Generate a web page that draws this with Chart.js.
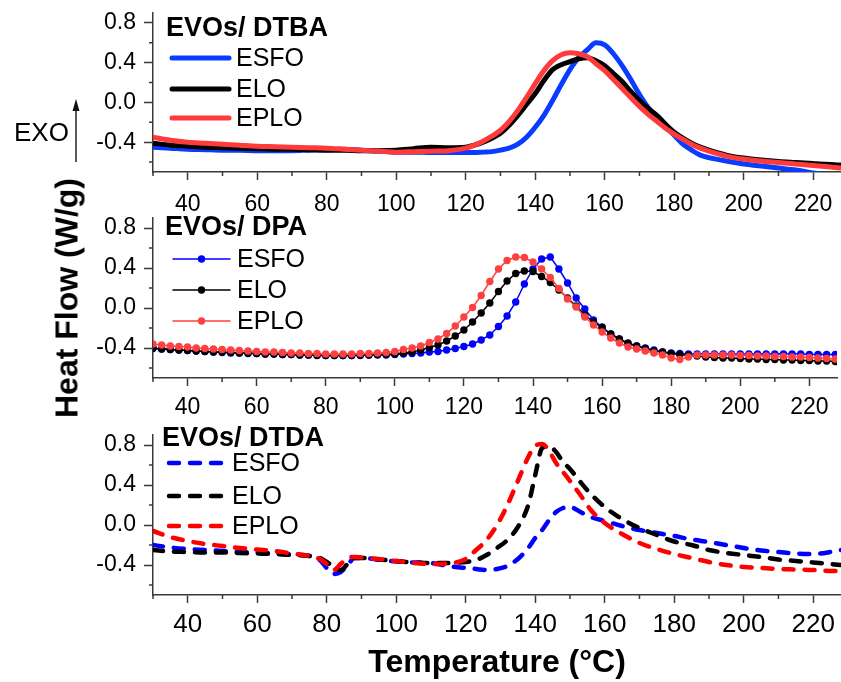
<!DOCTYPE html>
<html>
<head>
<meta charset="utf-8">
<script src="https://cdn.jsdelivr.net/npm/chart.js@4.4.1/dist/chart.umd.min.js"></script>
<style>
  html, body { margin: 0; padding: 0; background: #fff; }
  #wrap { position: relative; width: 841px; height: 682px; overflow: hidden; font-family: "Liberation Sans", Arial, sans-serif; }
  .panel { position: absolute; left: 0; }
  #ylab { position: absolute; left: 67px; top: 298px; transform: translate(-50%, -50%) rotate(-90deg);
          font-weight: bold; font-size: 32px; white-space: nowrap; color: #000; }
</style>
</head>
<body>
<div id="wrap">
  <canvas id="c1" class="panel" width="841" height="215" style="top:0"></canvas>
  <canvas id="c2" class="panel" width="841" height="215" style="top:205px"></canvas>
  <canvas id="c3" class="panel" width="841" height="262" style="top:420px"></canvas>
  <div id="ylab">Heat Flow (W/g)</div>
</div>
<script>
const FONT = '"Liberation Sans", Arial, sans-serif';
const AXIS = '#3a3a3a';

// shared axes
const X_MIN = 30, X_MAX = 228;
const X_MAJOR = [40, 60, 80, 100, 120, 140, 160, 180, 200, 220];
const X_MINOR = [30, 50, 70, 90, 110, 130, 150, 170, 190, 210];
const Y_MIN = -0.7, Y_MAX = 0.9;
const Y_MAJOR = [-0.4, 0.0, 0.4, 0.8];
const Y_MINOR = [-0.6, -0.2, 0.2, 0.6];
const SERIES = ['ESFO', 'ELO', 'EPLO'];

// panel 1: EVOs/ DTBA (solid)
const T_DTBA = [30, 35, 40, 45, 50, 55, 60, 65, 70, 75, 80, 85, 90, 95, 100, 105, 110, 115, 120,
  122.5, 125, 127.5, 130, 132.5, 135, 137.5, 140, 142.5, 145, 147.5, 150, 152.5, 155, 157.5, 160,
  162.5, 165, 167.5, 170, 172.5, 175, 177.5, 180, 182.5, 185, 187.5, 190,
  195, 200, 205, 210, 215, 220, 225, 228];
const DTBA_ESFO = [-0.45, -0.46, -0.47, -0.475, -0.48, -0.48, -0.485, -0.485, -0.485, -0.48, -0.475, -0.47, -0.48, -0.49, -0.50, -0.50, -0.505, -0.505, -0.505,
  -0.505, -0.50, -0.495, -0.48, -0.46, -0.42, -0.35, -0.25, -0.13, 0.02, 0.18, 0.33, 0.45, 0.53, 0.60, 0.58,
  0.49, 0.37, 0.23, 0.08, -0.05, -0.15, -0.24, -0.33, -0.42, -0.48, -0.53, -0.555,
  -0.59, -0.62, -0.64, -0.66, -0.68, -0.71, -0.73, -0.74];
const DTBA_ELO = [-0.41, -0.43, -0.44, -0.45, -0.455, -0.46, -0.465, -0.47, -0.47, -0.475, -0.48, -0.48, -0.485, -0.485, -0.48, -0.465, -0.45, -0.455, -0.45,
  -0.43, -0.40, -0.36, -0.31, -0.23, -0.13, -0.02, 0.09, 0.22, 0.33, 0.38, 0.41, 0.44, 0.45, 0.42, 0.37,
  0.29, 0.21, 0.11, 0.02, -0.06, -0.13, -0.22, -0.30, -0.36, -0.41, -0.45, -0.48,
  -0.53, -0.56, -0.58, -0.595, -0.605, -0.615, -0.625, -0.63];
const DTBA_EPLO = [-0.35, -0.38, -0.40, -0.41, -0.42, -0.43, -0.44, -0.445, -0.45, -0.455, -0.46, -0.47, -0.48, -0.49, -0.50, -0.495, -0.49, -0.485, -0.46,
  -0.43, -0.39, -0.34, -0.28, -0.19, -0.08, 0.05, 0.19, 0.32, 0.42, 0.48, 0.50, 0.49, 0.46, 0.39, 0.32,
  0.23, 0.14, 0.05, -0.04, -0.12, -0.19, -0.26, -0.32, -0.37, -0.42, -0.46, -0.49,
  -0.54, -0.57, -0.59, -0.605, -0.62, -0.635, -0.65, -0.66];

// panel 2: EVOs/ DPA (line + symbols)
const T_DPA = [30, 32.5, 35, 37.5, 40, 42.5, 45, 47.5, 50, 52.5, 55, 57.5, 60, 62.5, 65, 67.5, 70, 72.5, 75, 77.5,
  80, 82.5, 85, 87.5, 90, 92.5, 95, 97.5, 100, 102.5, 105, 107.5, 110, 112.5, 115, 117.5, 120, 122.5, 125, 127.5,
  130, 132.5, 135, 137.5, 140, 142.5, 145, 147.5, 150, 152.5, 155, 157.5, 160, 162.5, 165, 167.5, 170, 172.5, 175, 177.5,
  180, 182.5, 185, 187.5, 190, 192.5, 195, 197.5, 200, 202.5, 205, 207.5, 210, 212.5, 215, 217.5, 220, 222.5, 225, 227.5];
const DPA_ESFO = [-0.405, -0.41, -0.415, -0.42, -0.425, -0.43, -0.435, -0.44, -0.445, -0.45, -0.45, -0.455, -0.455, -0.46, -0.46, -0.465, -0.465, -0.47, -0.47, -0.47,
  -0.475, -0.475, -0.475, -0.475, -0.475, -0.47, -0.47, -0.47, -0.465, -0.46, -0.455, -0.45, -0.44, -0.435, -0.42, -0.405, -0.385, -0.36, -0.32, -0.27,
  -0.185, -0.08, 0.06, 0.24, 0.39, 0.49, 0.51, 0.39, 0.25, 0.10, -0.01, -0.12, -0.19, -0.26, -0.31, -0.36, -0.38, -0.40, -0.42, -0.44,
  -0.45, -0.455, -0.46, -0.46, -0.46, -0.46, -0.46, -0.46, -0.46, -0.46, -0.46, -0.46, -0.46, -0.46, -0.46, -0.46, -0.465, -0.465, -0.465, -0.465];
const DPA_ELO = [-0.40, -0.41, -0.415, -0.42, -0.425, -0.43, -0.435, -0.44, -0.44, -0.445, -0.45, -0.45, -0.455, -0.46, -0.46, -0.465, -0.465, -0.47, -0.47, -0.475,
  -0.475, -0.475, -0.475, -0.475, -0.47, -0.47, -0.465, -0.465, -0.46, -0.45, -0.44, -0.42, -0.395, -0.37, -0.33, -0.28, -0.22, -0.14, -0.05, 0.05,
  0.165, 0.27, 0.345, 0.37, 0.365, 0.315, 0.255, 0.18, 0.10, 0.02, -0.07, -0.14, -0.195, -0.26, -0.31, -0.35, -0.38, -0.405, -0.43, -0.44,
  -0.455, -0.465, -0.475, -0.48, -0.49, -0.495, -0.50, -0.50, -0.505, -0.51, -0.51, -0.515, -0.515, -0.52, -0.52, -0.525, -0.525, -0.53, -0.53, -0.535];
const DPA_EPLO = [-0.36, -0.37, -0.38, -0.385, -0.39, -0.40, -0.405, -0.41, -0.415, -0.42, -0.425, -0.43, -0.435, -0.44, -0.44, -0.445, -0.45, -0.45, -0.455, -0.455,
  -0.46, -0.46, -0.46, -0.46, -0.455, -0.455, -0.45, -0.445, -0.435, -0.415, -0.40, -0.38, -0.345, -0.31, -0.255, -0.18, -0.09, 0.005, 0.125, 0.265,
  0.39, 0.475, 0.51, 0.505, 0.46, 0.39, 0.305, 0.195, 0.09, 0.01, -0.09, -0.17, -0.24, -0.30, -0.35, -0.39, -0.41, -0.43, -0.45, -0.47,
  -0.50, -0.515, -0.49, -0.47, -0.47, -0.47, -0.47, -0.47, -0.475, -0.475, -0.48, -0.48, -0.485, -0.485, -0.49, -0.49, -0.495, -0.50, -0.505, -0.51];

// panel 3: EVOs/ DTDA (dashed)
const T_DTDA = [30, 35, 40, 45, 50, 55, 60, 65, 70, 75, 78, 80, 82, 84, 86, 88, 90, 95, 100, 105, 110, 115, 120,
  123, 126, 129, 132, 135, 138, 140, 142, 144, 146, 148, 150, 153, 156, 160, 165, 170, 175, 180, 185, 190,
  195, 200, 205, 210, 215, 220, 225, 228];
const DTDA_ESFO = [-0.20, -0.225, -0.24, -0.25, -0.26, -0.27, -0.275, -0.285, -0.295, -0.31, -0.35, -0.43, -0.49, -0.47, -0.40, -0.33, -0.33, -0.345, -0.365, -0.375, -0.38, -0.41, -0.43,
  -0.44, -0.45, -0.44, -0.41, -0.34, -0.23, -0.13, -0.05, 0.05, 0.13, 0.17, 0.18, 0.13, 0.08, 0.04, -0.01, -0.05, -0.08, -0.11, -0.145, -0.17,
  -0.20, -0.23, -0.255, -0.27, -0.285, -0.29, -0.27, -0.25];
const DTDA_ELO = [-0.25, -0.265, -0.27, -0.275, -0.275, -0.28, -0.285, -0.29, -0.30, -0.31, -0.33, -0.37, -0.42, -0.45, -0.39, -0.33, -0.33, -0.345, -0.36, -0.375, -0.38, -0.38, -0.37,
  -0.35, -0.30, -0.23, -0.15, -0.02, 0.20, 0.50, 0.77, 0.79, 0.73, 0.63, 0.56, 0.43, 0.31, 0.18, 0.06, -0.03, -0.10, -0.165, -0.20, -0.25,
  -0.28, -0.30, -0.32, -0.345, -0.36, -0.375, -0.39, -0.40];
const DTDA_EPLO = [-0.06, -0.12, -0.16, -0.19, -0.21, -0.23, -0.245, -0.26, -0.285, -0.31, -0.34, -0.39, -0.45, -0.39, -0.33, -0.32, -0.325, -0.34, -0.36, -0.38, -0.39, -0.385, -0.34,
  -0.25, -0.15, 0.00, 0.20, 0.44, 0.68, 0.79, 0.81, 0.74, 0.62, 0.53, 0.44, 0.30, 0.15, 0.02, -0.09, -0.18, -0.24, -0.29, -0.33, -0.37,
  -0.40, -0.42, -0.43, -0.44, -0.445, -0.45, -0.46, -0.46];

function pts(xs, ys) { return xs.map((x, i) => ({ x: x, y: ys[i] })); }

function zeroPad(s) { s.paddingLeft = 0; s.paddingRight = 0; s.paddingTop = 0; s.paddingBottom = 0; }

function makeScales(xTickSize, xTickPad, xHeight, xTitle) {
  return {
    x: {
      type: 'linear', min: X_MIN, max: X_MAX,
      afterBuildTicks: s => { s.ticks = X_MAJOR.map(v => ({ value: v })); },
      afterFit: s => { s.height = xHeight; zeroPad(s); },
      grid: { display: true, drawOnChartArea: false, drawTicks: true, tickLength: 8, tickWidth: 1.5, tickColor: AXIS },
      border: { display: true, color: AXIS, width: 1.5 },
      ticks: { color: '#000', font: { family: FONT, size: xTickSize }, padding: xTickPad,
               maxRotation: 0, autoSkip: false, callback: v => String(v) },
      title: xTitle
        ? { display: true, text: xTitle, color: '#000', font: { family: FONT, size: 32, weight: 'bold' }, padding: { top: 0, bottom: 0 } }
        : { display: false }
    },
    y: {
      type: 'linear', min: Y_MIN, max: Y_MAX,
      afterBuildTicks: s => { s.ticks = Y_MAJOR.map(v => ({ value: v })); },
      afterFit: s => { s.width = 153; zeroPad(s); },
      grid: { display: true, drawOnChartArea: false, drawTicks: true, tickLength: 9, tickWidth: 1.5, tickColor: AXIS },
      border: { display: true, color: AXIS, width: 1.5 },
      ticks: { color: '#000', font: { family: FONT, size: 23 }, padding: 8, autoSkip: false,
               callback: v => v.toFixed(1) }
    }
  };
}

// short minor ticks, placed through the chart's own scales
const minorTicks = {
  id: 'minorTicks',
  afterDraw(chart) {
    const { ctx, scales: { x, y } } = chart;
    ctx.save();
    ctx.strokeStyle = AXIS;
    ctx.lineWidth = 1.5;
    ctx.beginPath();
    X_MINOR.forEach(v => {
      const px = x.getPixelForValue(v);
      ctx.moveTo(px, x.top); ctx.lineTo(px, x.top + 4);
    });
    Y_MINOR.forEach(v => {
      const py = y.getPixelForValue(v);
      ctx.moveTo(y.right, py); ctx.lineTo(y.right - 4, py);
    });
    ctx.stroke();
    ctx.restore();
  }
};

// legend drawn inside the plot, with bold panel title
const panelLegend = {
  id: 'panelLegend',
  afterDatasetsDraw(chart, args, o) {
    if (!o || !o.title) return;
    const ctx = chart.ctx;
    ctx.save();
    ctx.fillStyle = '#000';
    ctx.textBaseline = 'middle';
    ctx.font = 'bold 27px ' + FONT;
    ctx.fillText(o.title, o.titleX, o.titleY);
    ctx.font = '25px ' + FONT;
    chart.data.datasets.forEach((ds, i) => {
      const y = o.rows[i];
      ctx.strokeStyle = ds.borderColor;
      ctx.lineWidth = ds.borderWidth;
      ctx.lineCap = ds.borderCapStyle || 'round';
      ctx.setLineDash(ds.borderDash || []);
      ctx.beginPath();
      ctx.moveTo(o.x0, y); ctx.lineTo(o.x1, y);
      ctx.stroke();
      ctx.setLineDash([]);
      if (ds.pointRadius > 0) {
        ctx.fillStyle = ds.borderColor;
        ctx.beginPath();
        ctx.arc((o.x0 + o.x1) / 2, y, ds.pointRadius, 0, Math.PI * 2);
        ctx.fill();
      }
      ctx.fillStyle = '#000';
      ctx.fillText(ds.label, o.textX, y + 1);
    });
    ctx.restore();
  }
};

// EXO arrow at the left of the first panel
const exoMark = {
  id: 'exoMark',
  afterDraw(chart, args, o) {
    if (!o || !o.show) return;
    const ctx = chart.ctx;
    ctx.save();
    ctx.fillStyle = '#000';
    ctx.font = '26px ' + FONT;
    ctx.textBaseline = 'middle';
    ctx.fillText('EXO', 14, 134);
    ctx.strokeStyle = '#222';
    ctx.lineWidth = 1.5;
    ctx.beginPath();
    ctx.moveTo(76, 162); ctx.lineTo(76, 108);
    ctx.stroke();
    ctx.fillStyle = '#111';
    ctx.beginPath();
    ctx.moveTo(76, 99); ctx.lineTo(72.5, 111); ctx.lineTo(79.5, 111);
    ctx.closePath(); ctx.fill();
    ctx.restore();
  }
};

function makePanel(id, datasets, padTop, xTickSize, xTickPad, xHeight, xTitle, legend, exo) {
  return new Chart(document.getElementById(id), {
    type: 'line',
    data: { datasets: datasets },
    options: {
      responsive: false,
      animation: false,
      events: [],
      layout: { padding: { top: padTop, left: 0, right: 0, bottom: 0 } },
      scales: makeScales(xTickSize, xTickPad, xHeight, xTitle),
      plugins: {
        legend: { display: false },
        tooltip: { enabled: false },
        panelLegend: legend,
        exoMark: { show: exo }
      }
    },
    plugins: [minorTicks, panelLegend, exoMark]
  });
}

// panel 1
makePanel('c1', [
  { label: SERIES[0], data: pts(T_DTBA, DTBA_ESFO), borderColor: '#0a3cff', borderWidth: 5, pointRadius: 0, cubicInterpolationMode: 'monotone', order: 3 },
  { label: SERIES[1], data: pts(T_DTBA, DTBA_ELO),  borderColor: '#000000', borderWidth: 5, pointRadius: 0, cubicInterpolationMode: 'monotone', order: 2 },
  { label: SERIES[2], data: pts(T_DTBA, DTBA_EPLO), borderColor: '#ff3a3a', borderWidth: 5, pointRadius: 0, cubicInterpolationMode: 'monotone', order: 1 }
], 13, 23, 11, 43, null,
  { title: 'EVOs/ DTBA', titleX: 166, titleY: 29, x0: 172, x1: 229, textX: 236, rows: [58, 89, 118] }, true);

// panel 2
const dotStyle = { borderWidth: 1.5, pointRadius: 3.7, pointBorderWidth: 0, tension: 0 };
makePanel('c2', [
  Object.assign({ label: SERIES[0], data: pts(T_DPA, DPA_ESFO), borderColor: '#0000ff', pointBackgroundColor: '#0000ff', order: 3 }, dotStyle),
  Object.assign({ label: SERIES[1], data: pts(T_DPA, DPA_ELO),  borderColor: '#000000', pointBackgroundColor: '#000000', order: 2 }, dotStyle),
  Object.assign({ label: SERIES[2], data: pts(T_DPA, DPA_EPLO), borderColor: '#ff4040', pointBackgroundColor: '#ff4040', order: 1 }, dotStyle)
], 13, 23, 8, 42, null,
  { title: 'EVOs/ DPA', titleX: 165, titleY: 23, x0: 173, x1: 230, textX: 237, rows: [54, 85, 116] }, false);

// panel 3
const dashStyle = { borderWidth: 4.5, borderDash: [10, 11], borderCapStyle: 'round', pointRadius: 0, cubicInterpolationMode: 'monotone' };
makePanel('c3', [
  Object.assign({ label: SERIES[0], data: pts(T_DTDA, DTDA_ESFO), borderColor: '#0000ff', order: 3 }, dashStyle),
  Object.assign({ label: SERIES[1], data: pts(T_DTDA, DTDA_ELO),  borderColor: '#000000', order: 2 }, dashStyle),
  Object.assign({ label: SERIES[2], data: pts(T_DTDA, DTDA_EPLO), borderColor: '#ff0000', order: 1 }, dashStyle)
], 15, 26, 6, 87, 'Temperature (°C)',
  { title: 'EVOs/ DTDA', titleX: 162, titleY: 19, x0: 169, x1: 222, textX: 232, rows: [43, 76, 106] }, false);
</script>
</body>
</html>
